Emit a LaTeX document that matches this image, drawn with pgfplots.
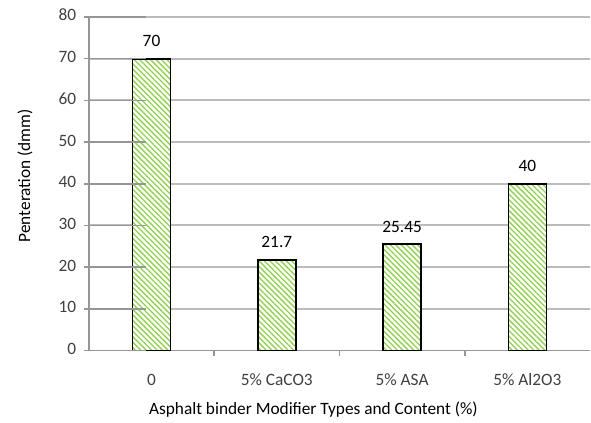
\documentclass[border=0pt]{standalone}
\usepackage{fontspec}
\setmainfont{Carlito}
\usepackage{pgfplots}
\pgfplotsset{compat=1.18}
\usetikzlibrary{patterns.meta}
\definecolor{hatchgreen}{RGB}{146,208,80}
\definecolor{gridgray}{RGB}{188,188,188}
\definecolor{axisgray}{RGB}{150,150,150}
\definecolor{txt}{RGB}{64,64,64}

\begin{document}
\begin{tikzpicture}
\begin{axis}[
  name=main,
  at={(66.75pt,54pt)}, anchor=south west,
  scale only axis,
  width=376.5pt, height=250.5pt,
  ymin=0, ymax=80, ytick={0,10,...,80},
  xmin=-0.5, xmax=3.5,
  % boundary ticks between the categories
  xtick={0.5,1.5,2.5},
  xticklabels={},
  % category names, centred under the bars, without tick marks
  extra x ticks={0,1,2,3},
  extra x tick labels={0,5\% CaCO3,5\% ASA,5\% Al2O3},
  extra x tick style={major tick length=0pt},
  typeset ticklabels with strut,
  axis x line*=bottom, axis y line*=left,
  axis line style={axisgray, line width=1.2pt, -},
  tick align=outside,
  major tick length=4pt,
  tick style={axisgray, line width=1.2pt},
  ymajorgrids=true,
  y grid style={gridgray, line width=1.4pt},
  tick label style={font=\fontsize{13}{15}\selectfont, text=txt},
  /pgf/number format/assume math mode=true,
  yticklabel style={xshift=-2pt},
  xticklabel style={yshift=-12pt},
  ylabel={Penteration (dmm)},
  xlabel={Asphalt binder Modifier Types and Content (\%)},
  every axis y label/.style={at={(axis description cs:-0.1275,0.524)}, rotate=90, anchor=center},
  every axis x label/.style={at={(axis description cs:0.448,-0.177)}, anchor=center},
  label style={font=\fontsize{13}{15}\selectfont, text=black},
  nodes near coords,
  every node near coord/.append style={font=\fontsize{13}{15}\selectfont, text=black, yshift=5pt},
  point meta=explicit symbolic,
  clip=false,
]
\addplot[ybar, bar width=28.5pt, draw=black, line width=1.3pt, fill=white,
  postaction={pattern={Lines[angle=-45, distance=2.9pt, line width=1pt]},
              pattern color=hatchgreen}]
  coordinates {(0,70)[70] (1,21.7)[21.7] (2,25.45)[25.45] (3,40)[40]};
% short tick marks to the left of the value axis
\pgfplotsinvokeforeach{0,10,...,80}{
  \draw[axisgray, line width=1.2pt] (axis cs:-0.5,#1) -- ++(-4pt,0);
}
\end{axis}
\useasboundingbox (0,0) rectangle (443.25pt,317.25pt);
\end{tikzpicture}
\end{document}
